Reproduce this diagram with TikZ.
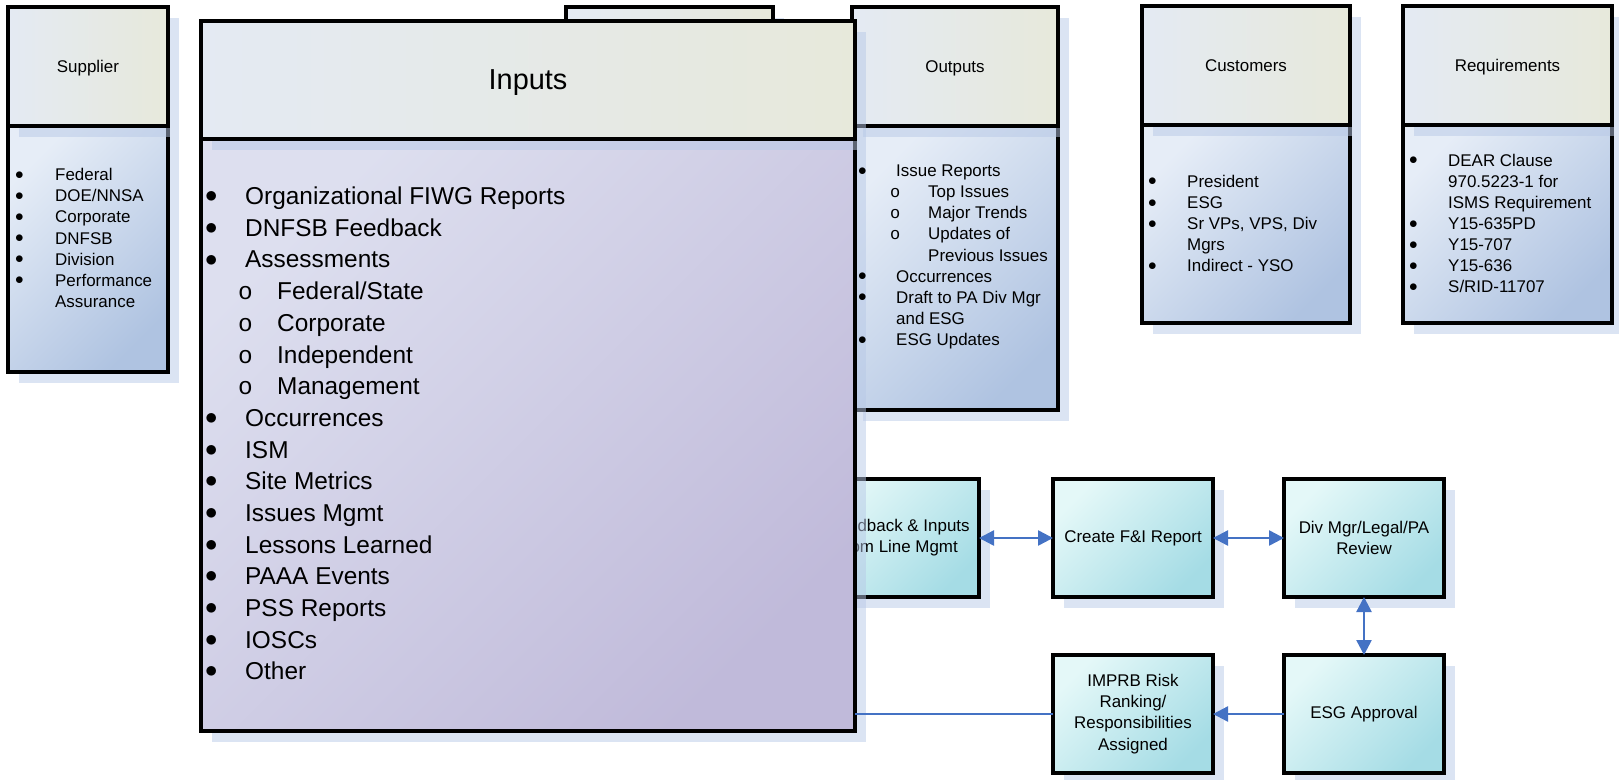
\documentclass[tikz,border=0pt]{standalone}
\usepackage{fontspec}
\setmainfont{Liberation Sans}
\newfontfamily\circfont{Liberation Mono}
\usetikzlibrary{arrows.meta, positioning, shadows}

\definecolor{headleft}{HTML}{E4EAF3}
\definecolor{headright}{HTML}{E7E9DB}
\definecolor{bluelight}{HTML}{E6EDF7}
\definecolor{bluedark}{HTML}{AFC3E1}
\definecolor{lilaclight}{HTML}{DDDFEF}
\definecolor{lilacdark}{HTML}{C0BADA}
\definecolor{cyanlight}{HTML}{E4F8F8}
\definecolor{cyandark}{HTML}{A5DCE5}
\definecolor{shadowblue}{HTML}{B8C9E7}
\definecolor{flowblue}{HTML}{4472C4}

\newcommand{\smalltext}{\fontsize{17}{21.2}\selectfont}
\newcommand{\bigtext}{\fontsize{24.5}{31.8}\selectfont}
\newcommand{\dotmark}{\raisebox{0.08em}{$\bullet$}}
\newcommand{\bitm}[2]{\makebox[#1][l]{\dotmark}#2}
\newcommand{\subitm}[3]{\hspace*{#1}\makebox[#2][l]{\circfont o}#3}

\tikzset{
    box/.style={draw, rectangle, line width=4bp, inner sep=0pt, outer sep=0pt,
        drop shadow={shadow xshift=11bp, shadow yshift=-11bp, fill=shadowblue, opacity=0.5}},
    headbox/.style={box, left color=headleft, right color=headright, text depth=0pt},
    listbox/.style={box, top color=bluelight, bottom color=bluedark, shading angle=45},
    inputbox/.style={box, top color=lilaclight, bottom color=lilacdark, shading angle=45},
    stepbox/.style={box, top color=cyanlight, bottom color=cyandark, shading angle=45,
        minimum width=160bp, minimum height=118bp, align=center, font=\smalltext},
    listtext/.style={anchor=west, inner sep=0pt, align=left, font=\smalltext},
    flow/.style={draw=flowblue, line width=2.5bp},
}

\begin{document}
\begin{tikzpicture}[x=1bp, y=-1bp]
    \useasboundingbox (0,0) rectangle (1619,780);

    % Columns
    \node[listbox, minimum width=160bp, minimum height=246bp] (supplier) at (88,249) {};
    \node[headbox, minimum width=160bp, minimum height=119bp, font=\smalltext, above=0pt of supplier] (supplierhead) {Supplier};
    \node[headbox, minimum width=207bp, minimum height=119bp] (middlehead) at (669.5,66.5) {};
    \node[listbox, minimum width=206bp, minimum height=284bp] (outputs) at (955,268) {};
    \node[headbox, minimum width=206bp, minimum height=119bp, font=\smalltext, above=0pt of outputs] (outputshead) {Outputs};
    \node[listbox, minimum width=208bp, minimum height=198bp] (customers) at (1246,224) {};
    \node[headbox, minimum width=208bp, minimum height=119bp, font=\smalltext, above=0pt of customers] (customershead) {Customers};
    \node[listbox, minimum width=209bp, minimum height=198bp] (requirements) at (1507.5,224) {};
    \node[headbox, minimum width=209bp, minimum height=119bp, font=\smalltext, above=0pt of requirements] (requirementshead) {Requirements};

    % Process steps
    \node[stepbox] (feedback) at (899,538) {Feedback \& Inputs\\from Line Mgmt};
    \node[stepbox, right=74bp of feedback] (create) {Create F\&I Report};
    \node[stepbox, right=71bp of create] (review) {Div Mgr/Legal/PA\\Review};
    \node[stepbox, below=58bp of review] (esg) {ESG Approval};
    \node[stepbox, left=71bp of esg] (imprb) {IMPRB Risk\\Ranking/\\Responsibilities\\Assigned};

    % Connections
    \draw [flow, arrows = {Triangle[length=15bp, width=15bp]-Triangle[length=15bp, width=15bp]}] (feedback) -- (create);
    \draw [flow, arrows = {Triangle[length=15bp, width=15bp]-Triangle[length=15bp, width=15bp]}] (create) -- (review);
    \draw [flow, arrows = {Triangle[length=15bp, width=15bp]-Triangle[length=15bp, width=15bp]}] (review) -- (esg);
    \draw [flow, arrows = {-Triangle[length=15bp, width=15bp]}] (esg) -- (imprb);

    % Inputs on top
    \node[inputbox, minimum width=654bp, minimum height=592bp] (inputs) at (528,435) {};
    \node[headbox, minimum width=654bp, minimum height=118bp, font=\fontsize{29}{34}\selectfont, above=0pt of inputs] (inputshead) {Inputs};
    \draw [flow] (imprb.west) -- (imprb.west -| inputs.east);

    % Lists
    \node[listtext] (supplierlist) at (15,238) {\bitm{40bp}{Federal}\\ \bitm{40bp}{DOE/NNSA}\\ \bitm{40bp}{Corporate}\\ \bitm{40bp}{DNFSB}\\ \bitm{40bp}{Division}\\ \bitm{40bp}{Performance}\\ \hspace*{40bp}Assurance};
    \node[listtext, font=\bigtext] (inputslist) at (205,433.5) {\bitm{40bp}{Organizational FIWG Reports}\\ \bitm{40bp}{DNFSB Feedback}\\ \bitm{40bp}{Assessments}\\ \subitm{33bp}{39bp}{Federal/State}\\ \subitm{33bp}{39bp}{Corporate}\\ \subitm{33bp}{39bp}{Independent}\\ \subitm{33bp}{39bp}{Management}\\ \bitm{40bp}{Occurrences}\\ \bitm{40bp}{ISM}\\ \bitm{40bp}{Site Metrics}\\ \bitm{40bp}{Issues Mgmt}\\ \bitm{40bp}{Lessons Learned}\\ \bitm{40bp}{PAAA Events}\\ \bitm{40bp}{PSS Reports}\\ \bitm{40bp}{IOSCs}\\ \bitm{40bp}{Other}};
    \node[listtext] (outputslist) at (858,257) {\bitm{38bp}{Issue Reports}\\ \subitm{32bp}{38bp}{Top Issues}\\ \subitm{32bp}{38bp}{Major Trends}\\ \subitm{32bp}{38bp}{Updates of}\\ \hspace*{70bp}Previous Issues\\ \bitm{38bp}{Occurrences}\\ \bitm{38bp}{Draft to PA Div Mgr}\\ \hspace*{38bp}and ESG\\ \bitm{38bp}{ESG Updates}};
    \node[listtext] (customerslist) at (1148,223.5) {\bitm{39bp}{President}\\ \bitm{39bp}{ESG}\\ \bitm{39bp}{Sr VPs, VPS, Div}\\ \hspace*{39bp}Mgrs\\ \bitm{39bp}{Indirect - YSO}};
    \node[listtext] (requirementslist) at (1409,223.5) {\bitm{39bp}{DEAR Clause}\\ \hspace*{39bp}970.5223-1 for\\ \hspace*{39bp}ISMS Requirement\\ \bitm{39bp}{Y15-635PD}\\ \bitm{39bp}{Y15-707}\\ \bitm{39bp}{Y15-636}\\ \bitm{39bp}{S/RID-11707}};
\end{tikzpicture}
\end{document}
